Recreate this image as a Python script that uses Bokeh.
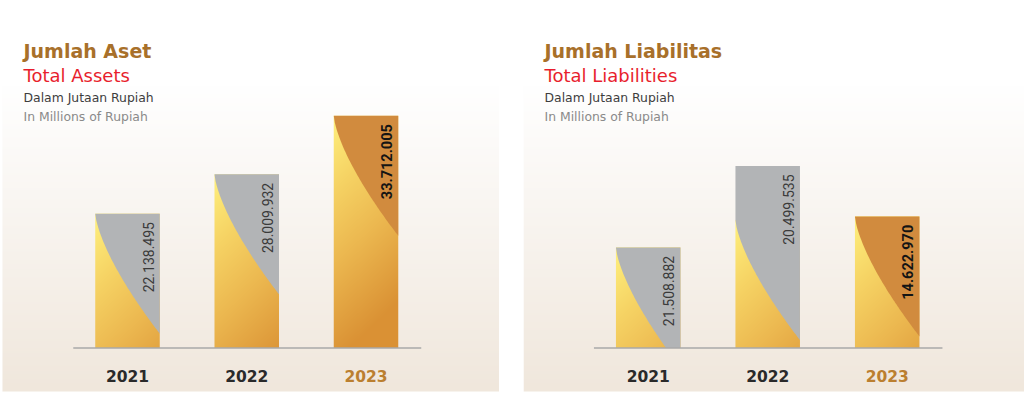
import numpy as np
from bokeh.plotting import figure
from bokeh.models import Label, Range1d, Spacer, ColumnDataSource
from bokeh.layouts import row
from bokeh.embed import file_html
from bokeh.resources import INLINE
from bokeh.core.properties import value

# ---------------- data ----------------
years = ["2021", "2022", "2023"]
asset_values = [22138495, 28009932, 33712005]      # Juta Rupiah (labels)
asset_bar_len = [19.5e6, 25.2e6, 33.7e6]           # bar lengths as drawn in the picture
liab_values = [21508882, 20499535, 14622970]
liab_bar_len = [14.6e6, 26.4e6, 19.1e6]

asset_titles = ["Jumlah Aset", "Total Assets", "Dalam Jutaan Rupiah", "In Millions of Rupiah"]
liab_titles = ["Jumlah Liabilitas", "Total Liabilities", "Dalam Jutaan Rupiah", "In Millions of Rupiah"]

def fmt(v):
    return f"{v:,}".replace(",", ".")

# ---------------- style ----------------
H = 393
BASE_Y = 347.5                       # screen px from top of baseline
KY = 232.2 / 33.7e6                  # px per unit
TFONT = "DejaVu Sans"
VFONT = "Roboto"
GREY = "#b2b4b6"
DARK_OR = "#d18b3e"
CURVE_DEPTH_PX = 120.0

stops_t = [0.0, 0.3, 0.6, 1.0]
stops_c = np.array([[255, 241, 126], [246, 211, 100], [236, 184, 80], [218, 145, 52]], float)


def grad_color(t):
    t = np.clip(t, 0, 1)
    return [np.interp(t, stops_t, stops_c[:, i]) for i in range(3)]


def rgba_img(r, g, b):
    ny, nx = r.shape
    img = np.empty((ny, nx), dtype=np.uint32)
    v = img.view(dtype=np.uint8).reshape((ny, nx, 4))
    v[:, :, 0] = r.astype(np.uint8)
    v[:, :, 1] = g.astype(np.uint8)
    v[:, :, 2] = b.astype(np.uint8)
    v[:, :, 3] = 255
    return img


def make_panel(width, first_center_px, step_px, titles, title_x, values, bar_len,
               top_colors, curve_drop_px, bg_left=0, bg_bottom=391):
    x0 = -first_center_px / step_px
    xr = Range1d(x0, x0 + width / step_px)
    yr = Range1d(-(H - BASE_Y) / KY, BASE_Y / KY)
    p = figure(width=width, height=H, x_range=xr, y_range=yr, output_backend="svg",
               toolbar_location=None, x_axis_type=None, y_axis_type=None,
               min_border=0, outline_line_color=None,
               background_fill_color="white", border_fill_color="white")
    p.xgrid.visible = False
    p.ygrid.visible = False

    # background vertical gradient (panel ends slightly above page bottom)
    rows = np.arange(H)[::-1]  # image row 0 = bottom
    t = np.clip((rows - 85.0) / (391.0 - 85.0), 0, 1)
    top = np.array([255, 255, 255], float)
    bot = np.array([240, 231, 220], float)
    cols = [top[i] + (bot[i] - top[i]) * t for i in range(3)]
    for c in cols:
        c[rows >= bg_bottom] = 255
    bg = rgba_img(*(c.reshape(-1, 1) for c in cols))
    x_bg = xr.start + bg_left / step_px
    p.image_rgba(image=[bg], x=x_bg, y=yr.start, dw=xr.end - x_bg, dh=yr.end - yr.start)

    bw_px = 64.5
    bw = bw_px / step_px
    idx = list(range(len(values)))
    depth_u = CURVE_DEPTH_PX / KY
    xs, ys = [], []
    for i, L in enumerate(bar_len):
        drop_u = curve_drop_px[i] / KY
        gold_top = L - drop_u
        hpx = gold_top * KY
        ny = max(int(round(hpx)), 2)
        nx = 65
        yy = (np.arange(ny) + 0.5) / ny * gold_top      # from bottom
        d_px = (gold_top - yy) * KY
        th = (np.arange(nx) + 0.5) / nx
        T = 0.8 * (d_px[:, None] / 200.0) + 0.25 * th[None, :]
        r, g, b = grad_color(T)
        p.image_rgba(image=[rgba_img(r, g, b)], x=i - bw / 2, y=0, dw=bw, dh=gold_top)

        # top overlay region bounded by a curve
        s = np.linspace(1, 0, 60)
        cx = (i - bw / 2) + s * bw
        cy = np.maximum(gold_top - depth_u * s ** 0.7, 0)
        px = [i - bw / 2, i + bw / 2] + list(cx)
        py = [L, L] + list(cy)
        xs.append(px)
        ys.append(py)
    p.patches(xs=xs, ys=ys, fill_color=top_colors, line_color=None)

    # baseline
    left = -bw / 2 - 22 / step_px
    right = 2 + bw / 2 + 23 / step_px
    p.line(x=[left, right], y=[0, 0], line_color="#a9a9a9", line_width=1.6)

    # value labels
    labels = [fmt(v) for v in values]
    src_n = ColumnDataSource(dict(x=idx[:2], y=bar_len[:2], t=labels[:2]))
    src_b = ColumnDataSource(dict(x=idx[2:], y=bar_len[2:], t=labels[2:]))
    p.text(x="x", y="y", text="t", source=src_n, angle=np.pi / 2, text_align="right",
           text_baseline="middle", x_offset=20.5, y_offset=8.4, text_font=value(VFONT),
           text_font_size="14px", text_color="#3a3a3a")
    p.text(x="x", y="y", text="t", source=src_b, angle=np.pi / 2, text_align="right",
           text_baseline="middle", x_offset=20.5, y_offset=8.4, text_font=value(VFONT),
           text_font_size="14.5px", text_font_style="bold", text_color="#141414")

    # year labels
    ysrc = ColumnDataSource(dict(x=idx, y=[0] * 3, t=years, c=["#2a2a2a", "#2a2a2a", "#bb7f30"]))
    p.text(x="x", y="y", text="t", source=ysrc, text_color="c", text_align="center",
           text_baseline="alphabetic", y_offset=27.5, text_font=value(TFONT),
           text_font_size="15.5px", text_font_style="bold")

    # titles
    specs = [(titles[0], 50, "19px", "bold", "#a8702a"),
             (titles[1], 75, "18px", "normal", "#e81e2d"),
             (titles[2], 97.3, "12.4px", "normal", "#3d3d3d"),
             (titles[3], 116, "12.4px", "normal", "#8a8a8a")]
    for txt, yb, fs, st, col in specs:
        p.add_layout(Label(x=title_x, y=H - yb, x_units="screen", y_units="screen", text=txt,
                           text_font=TFONT, text_font_size=fs, text_font_style=st,
                           text_color=col, text_baseline="alphabetic"))
    return p


p1 = make_panel(499, 127.0, 119.25, asset_titles, 23, asset_values, asset_bar_len,
                [GREY, GREY, DARK_OR], [0, 0, 0], bg_left=2)
p2 = make_panel(501, 124.7, 119.5, liab_titles, 21, liab_values, liab_bar_len,
                [GREY, GREY, DARK_OR], [0, 54, 0])

layout = row(p1, Spacer(width=24, height=H), p2)
open("out.html", "w").write(file_html(layout, INLINE))
